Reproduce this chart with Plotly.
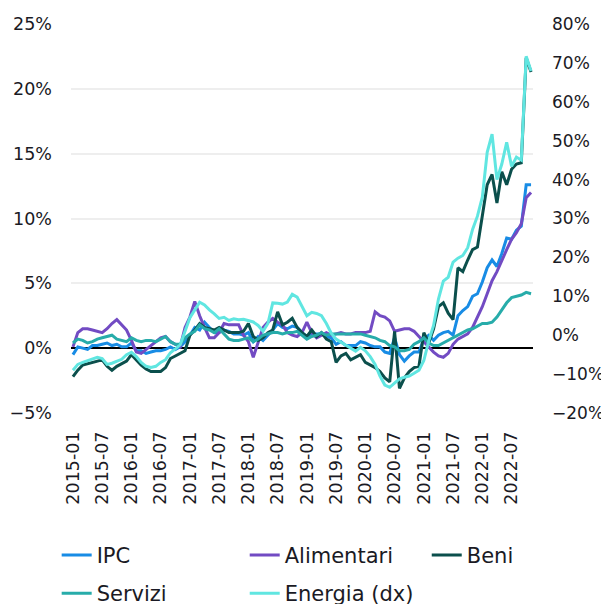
import plotly.graph_objects as go

# monthly dates 2015-01 .. 2022-11
months = [f"{y}-{m:02d}" for y in range(2015, 2023) for m in range(1, 13)][:95]
tick_labels = [f"{y}-{m}" for y in range(2015, 2023) for m in ("01", "07")]

ipc = [-0.5, 0.1, 0.0, -0.1, 0.2, 0.2, 0.3, 0.4, 0.2, 0.3, 0.1, 0.1,
       0.4, -0.2, -0.2, -0.4, -0.3, -0.2, -0.2, -0.1, 0.1, -0.1, 0.1, 0.5,
       1.0, 1.6, 1.4, 2.0, 1.6, 1.2, 1.2, 1.4, 1.3, 1.1, 1.1, 1.0,
       1.2, 0.5, 0.9, 0.6, 1.0, 1.4, 1.9, 1.6, 1.5, 1.7, 1.6, 1.2,
       0.9, 1.1, 1.1, 1.1, 0.9, 0.8, 0.3, 0.5, 0.2, 0.2, 0.2, 0.5,
       0.4, 0.2, 0.1, 0.1, -0.3, -0.4, 0.8, -0.5, -1.0, -0.6, -0.3, -0.3,
       0.7, 1.0, 0.6, 1.0, 1.2, 1.3, 1.0, 2.5, 2.9, 3.2, 4.0, 4.2,
       5.1, 6.2, 6.8, 6.3, 7.3, 8.5, 8.4, 9.1, 9.4, 12.6, 12.6]

alimentari = [0.1, 1.2, 1.5, 1.5, 1.4, 1.3, 1.2, 1.5, 1.9, 2.2, 1.8, 1.4,
              0.6, -0.3, -0.4, -0.1, 0.2, 0.5, 0.8, 0.9, 0.5, 0.3, 0.1, 1.6,
              2.4, 3.6, 2.5, 1.6, 0.8, 0.8, 1.2, 1.9, 1.8, 1.8, 1.8, 1.0,
              0.5, -0.7, 0.4, 1.6, 2.0, 2.3, 2.0, 1.8, 1.2, 1.0, 0.9, 1.2,
              2.0, 1.2, 0.8, 1.0, 1.2, 1.0, 1.1, 1.2, 1.1, 1.1, 1.2, 1.2,
              1.2, 1.3, 2.8, 2.5, 2.4, 2.1, 1.3, 1.4, 1.5, 1.5, 1.3, 0.9,
              0.5, 0.1, -0.3, -0.6, -0.7, -0.4, 0.3, 0.7, 0.9, 1.1, 1.6, 2.4,
              3.2, 4.2, 5.2, 5.9, 6.8, 7.6, 8.4, 8.9, 9.6, 11.6, 12.0]

beni = [-2.2, -1.7, -1.3, -1.2, -1.1, -1.0, -0.9, -1.4, -1.7, -1.4, -1.2, -1.0,
        -0.5, -0.9, -1.3, -1.6, -1.8, -1.8, -1.8, -1.5, -0.8, -0.6, -0.4, -0.2,
        1.0, 1.4, 1.9, 1.6, 1.5, 1.4, 1.6, 1.4, 1.2, 1.2, 1.2, 1.3,
        1.9, 0.9, 0.6, 0.8, 1.2, 1.4, 2.8, 1.8, 2.0, 2.3, 1.6, 1.2,
        0.9, 1.4, 0.9, 1.2, 0.7, 0.5, -1.1, -0.6, -0.4, -0.9, -0.7, -0.5,
        -1.1, -1.3, -1.5, -1.8, -2.3, -2.6, 1.3, -3.1, -2.3, -1.8, -1.5, -1.4,
        1.2, 0.4, 1.5, 3.2, 3.5, 2.7, 2.2, 6.2, 5.9, 6.8, 7.6, 7.8,
        10.4, 12.6, 13.4, 11.2, 13.6, 12.6, 13.8, 14.2, 14.3, 22.4, 21.3]

servizi = [0.4, 0.7, 0.6, 0.4, 0.5, 0.7, 0.8, 0.9, 1.0, 0.7, 0.6, 0.5,
           0.8, 0.6, 0.5, 0.6, 0.6, 0.5, 0.7, 0.9, 0.5, 0.3, 0.3, 0.8,
           1.1, 1.3, 1.8, 1.5, 1.4, 1.2, 1.5, 1.1, 0.7, 0.6, 0.6, 0.7,
           0.8, 0.5, 0.7, 1.0, 1.1, 1.2, 1.2, 1.1, 1.2, 1.2, 1.3, 1.0,
           0.7, 0.9, 1.0, 1.2, 1.0, 1.1, 1.1, 1.1, 1.1, 1.1, 1.1, 1.1,
           1.0, 0.9, 0.8, 0.6, 0.5, 0.2, 0.1, -0.2, -0.2, -0.1, 0.3, 0.5,
           0.8, 0.4, 0.2, 0.2, 0.4, 0.6, 0.8, 1.0, 1.2, 1.4, 1.5, 1.7,
           1.9, 1.9, 2.0, 2.4, 3.0, 3.5, 3.9, 4.0, 4.1, 4.3, 4.2]

energia = [-9.0, -7.5, -7.0, -6.5, -6.2, -5.7, -6.0, -7.5, -7.2, -6.8, -6.2, -5.0,
           -4.4, -5.5, -7.0, -8.0, -8.3, -8.0, -7.0, -6.3, -4.5, -3.5, -2.5, 1.0,
           4.5, 6.5, 8.5, 7.8, 6.5, 5.5, 4.3, 4.6, 3.8, 4.2, 4.0, 4.1,
           3.7, 3.4, 2.5, 1.0, 3.0, 8.3, 8.2, 8.0, 8.5, 10.5, 9.8, 7.3,
           5.0, 5.9, 5.6, 5.0, 3.0, 0.5, -1.0, -1.8, -2.6, -3.5, -4.1, -3.1,
           -4.0, -5.5, -7.5, -10.5, -12.8, -13.4, -12.3, -11.2, -10.8, -10.5, -9.8, -9.0,
           -6.5, -1.5, 2.5, 9.3, 13.9, 14.9, 18.8, 19.8, 20.5, 22.5, 27.2, 30.6,
           35.5, 47.0, 51.7, 40.0, 44.0, 49.6, 43.4, 45.8, 45.0, 71.7, 67.9]

FONT = "DejaVu Sans"
TXT = "#1a1a24"
fig = go.Figure()
series = [
    ("IPC", ipc, "#188CE5", "y", "legend"),
    ("Alimentari", alimentari, "#724BC3", "y", "legend2"),
    ("Beni", beni, "#0B4F4C", "y", "legend3"),
    ("Servizi", servizi, "#27ACAA", "y", "legend"),
    ("Energia (dx)", energia, "#60E6E1", "y2", "legend2"),
]
for name, vals, color, yax, leg in series:
    fig.add_trace(go.Scatter(x=months, y=vals, name=name, mode="lines", yaxis=yax,
                             legend=leg, legendgroup=name,
                             line=dict(color=color, width=3)))

legend_style = dict(orientation="v", xanchor="left", yanchor="top", y=-0.313,
                    traceorder="grouped", tracegroupgap=8,
                    font=dict(size=21, color=TXT, family=FONT),
                    bgcolor="rgba(0,0,0,0)")
fig.update_layout(
    width=601, height=604, template="plotly_white",
    margin=dict(l=71, r=68, t=24, b=191, autoexpand=False),
    font=dict(family=FONT, size=17.5, color=TXT),
    plot_bgcolor="white", paper_bgcolor="white",
    xaxis=dict(type="category", tickmode="array", tickvals=tick_labels, ticktext=tick_labels,
               tickangle=-90, range=[-0.4, 94.4], showgrid=False, showline=False,
               zeroline=False, ticks="", automargin=False, ticklabelstandoff=14),
    yaxis=dict(range=[-5, 25], dtick=5, ticksuffix="%", showgrid=True, gridcolor="#EEEEEE",
               gridwidth=1.5, zeroline=True, zerolinecolor="black", zerolinewidth=2,
               ticklabelstandoff=18, showline=False, automargin=False),
    yaxis2=dict(range=[-20, 80], dtick=10, ticksuffix="%", overlaying="y", side="right",
                showgrid=False, zeroline=False, ticklabelstandoff=18, showline=False,
                automargin=False, tickfont=dict(size=17)),
    legend=dict(x=-0.031, **legend_style),
    legend2=dict(x=0.376, **legend_style),
    legend3=dict(x=0.77, **legend_style),
    showlegend=True,
)
# drop the default page margin so the 601x604 figure fills the window exactly
fig.write_html("out.html", config={"displayModeBar": False},
               post_script="document.body.style.margin='0';document.body.style.overflow='hidden';")
